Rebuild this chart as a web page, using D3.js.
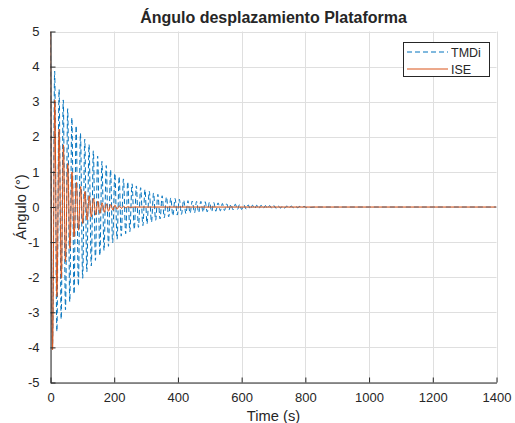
<!DOCTYPE html>
<html>
<head>
<meta charset="utf-8">
<script src="https://cdn.jsdelivr.net/npm/d3@7"></script>
<style>
  html, body { margin: 0; padding: 0; background: #ffffff; }
  svg { display: block; }
  text { font-family: "Liberation Sans", Arial, Helvetica, sans-serif; fill: #262626; }
</style>
</head>
<body>
<div id="chart"></div>
<script>
// ---------------- data ----------------
const chartTitle = "Ángulo desplazamiento Plataforma";
const xLabel = "Time (s)";
const yLabel = "Ángulo (°)";
const seriesNames = ["TMDi", "ISE"];

const xTicks = [0, 200, 400, 600, 800, 1000, 1200, 1400];
const xTickLabels = ["0", "200", "400", "600", "800", "1000", "1200", "1400"];
const yTicks = [-5, -4, -3, -2, -1, 0, 1, 2, 3, 4, 5];
const yTickLabels = ["-5", "-4", "-3", "-2", "-1", "0", "1", "2", "3", "4", "5"];

// TMDi: successive extremes of the oscillation (time in s, angle in degrees)
const tmdiTime = [
  0, 6.5, 13, 20, 27, 33.5, 40, 47, 54, 60.5, 67, 74, 80.5, 87.5, 94, 101,
  107.5, 114, 121, 128, 134.5, 141, 148, 155, 161.5, 168, 175, 182, 188.5, 195, 202, 209,
  215.5, 222, 229, 236, 242.5, 249, 256, 263, 269.5, 276, 283, 290, 296.5, 303, 310, 317,
  323.5, 330, 337, 344, 350.5, 357, 364, 371, 377.5, 384, 391, 398, 404.5, 411, 418, 425,
  431.5, 438, 445, 452, 458.5, 465, 472, 479, 485.5, 492, 499, 506, 512.5, 519, 526, 533,
  539.5, 546, 553, 560, 566.5, 573, 580, 587, 593.5, 600, 607, 614, 620.5, 627, 634, 641,
  647.5, 654, 661, 668, 674.5, 681, 688, 695, 701.5, 708, 715, 722, 728.5, 735, 742, 749,
  755.5, 762, 769, 776, 782.5, 789, 796, 803, 809.5, 816, 830, 1400
];
const tmdiValue = [
  5, -3.9, 3.87, -3.55, 3.35, -3.2, 3.05, -2.93, 2.8, -2.7, 2.55, -2.48, 2.32, -2.25, 2.1, -2.03,
  1.93, -1.85, 1.78, -1.68, 1.6, -1.52, 1.45, -1.38, 1.3, -1.24, 1.18, -1.12, 1.06, -1.02, 0.96, -0.92,
  0.87, -0.83, 0.8, -0.76, 0.72, -0.7, 0.66, -0.64, 0.6, -0.58, 0.55, -0.53, 0.5, -0.48, 0.45, -0.43,
  0.4, -0.38, 0.36, -0.34, 0.32, -0.31, 0.29, -0.28, 0.26, -0.25, 0.24, -0.23, 0.22, -0.21, 0.2, -0.19,
  0.18, -0.18, 0.17, -0.17, 0.16, -0.16, 0.16, -0.15, 0.15, -0.14, 0.14, -0.13, 0.13, -0.12, 0.12, -0.11,
  0.1, -0.1, 0.09, -0.09, 0.08, -0.08, 0.08, -0.07, 0.07, -0.07, 0.06, -0.06, 0.06, -0.06, 0.05, -0.05,
  0.05, -0.05, 0.05, -0.04, 0.04, -0.04, 0.04, -0.04, 0.04, -0.04, 0.03, -0.03, 0.03, -0.03, 0.03, -0.03,
  0.03, -0.02, 0.02, -0.02, 0.02, -0.02, 0.02, -0.02, 0.01, -0.01, 0, 0
];

// ISE: successive extremes of the oscillation
const iseTime = [
  0, 6.5, 13.5, 20, 27, 34, 40.5, 47, 54, 61, 67.5, 74, 81, 88, 94.5, 101,
  108, 115, 121.5, 128, 135, 142, 148.5, 155, 162, 169, 175.5, 182, 189, 196, 202.5, 209,
  216, 223, 229.5, 236, 243, 250, 260, 1400
];
const iseValue = [
  5, -4.07, 3.05, -2.55, 2.22, -2.03, 1.77, -1.56, 1.24, -1.18, 1.0, -0.85, 0.7, -0.66, 0.58, -0.47,
  0.44, -0.37, 0.32, -0.28, 0.25, -0.23, 0.17, -0.18, 0.12, -0.15, 0.09, -0.12, 0.07, -0.09, 0.05, -0.06,
  0.03, -0.04, 0.02, -0.02, 0.01, -0.01, 0, 0
];

const seriesColors = ["#0072BD", "#D95319"];

// ---------------- layout ----------------
const W = 515, H = 423;
const plot = { left: 50.5, right: 496.5, top: 31.5, bottom: 382.5 };

const svg = d3.select("#chart").append("svg")
  .attr("width", W).attr("height", H);

svg.append("rect").attr("width", W).attr("height", H).attr("fill", "#ffffff");

const x = d3.scaleLinear().domain([0, 1400]).range([plot.left, plot.right]);
const y = d3.scaleLinear().domain([-5, 5]).range([plot.bottom, plot.top]);

// grid
const grid = svg.append("g").attr("stroke", "#dfdfdf").attr("stroke-width", 1);
grid.selectAll("line.gx").data(xTicks).enter().append("line")
  .attr("x1", d => Math.round(x(d)) + 0.5).attr("x2", d => Math.round(x(d)) + 0.5)
  .attr("y1", plot.top).attr("y2", plot.bottom);
grid.selectAll("line.gy").data(yTicks).enter().append("line")
  .attr("y1", d => Math.round(y(d)) + 0.5).attr("y2", d => Math.round(y(d)) + 0.5)
  .attr("x1", plot.left).attr("x2", plot.right);

// clip
svg.append("clipPath").attr("id", "clip").append("rect")
  .attr("x", plot.left).attr("y", plot.top - 1)
  .attr("width", plot.right - plot.left).attr("height", plot.bottom - plot.top + 2);

const line = d3.line().x(d => x(d[0])).y(d => y(d[1])).curve(d3.curveMonotoneX);

const tmdiData = tmdiTime.map((t, i) => [t, tmdiValue[i]]);
const iseData = iseTime.map((t, i) => [t, iseValue[i]]);

const lines = svg.append("g").attr("clip-path", "url(#clip)");
lines.append("path").datum(tmdiData)
  .attr("d", line).attr("fill", "none")
  .attr("stroke", seriesColors[0]).attr("stroke-width", 1)
  .attr("stroke-dasharray", "5,3");
lines.append("path").datum(iseData)
  .attr("d", line).attr("fill", "none")
  .attr("stroke", seriesColors[1]).attr("stroke-width", 1);

// axes (MATLAB-like: inward ticks, no box)
const xAxis = d3.axisBottom(x).tickValues(xTicks)
  .tickFormat((d, i) => xTickLabels[i]).tickSizeInner(-5).tickSizeOuter(0).tickPadding(10);
const gx = svg.append("g").attr("transform", `translate(0,${plot.bottom})`).call(xAxis);
gx.select(".domain").attr("stroke", "#262626");
gx.selectAll(".tick line").attr("stroke", "#262626");
gx.selectAll(".tick text").attr("font-size", 13).attr("fill", "#262626")
  .style("font-family", '"Liberation Sans", Arial, sans-serif');

const yAxis = d3.axisLeft(y).tickValues(yTicks)
  .tickFormat((d, i) => yTickLabels[i]).tickSizeInner(-5).tickSizeOuter(0).tickPadding(11);
const gy = svg.append("g").attr("transform", `translate(${plot.left},0)`).call(yAxis);
gy.select(".domain").attr("stroke", "#262626");
gy.selectAll(".tick line").attr("stroke", "#262626");
gy.selectAll(".tick text").attr("font-size", 13).attr("fill", "#262626")
  .style("font-family", '"Liberation Sans", Arial, sans-serif');

// title and labels
svg.append("text")
  .attr("x", (plot.left + plot.right) / 2).attr("y", 23)
  .attr("text-anchor", "middle").attr("font-size", 16).attr("font-weight", "bold")
  .attr("fill", "#000000").text(chartTitle);

svg.append("text")
  .attr("x", (plot.left + plot.right) / 2).attr("y", 421)
  .attr("text-anchor", "middle").attr("font-size", 14.7).text(xLabel);

svg.append("text")
  .attr("transform", `translate(26,${(plot.top + plot.bottom) / 2}) rotate(-90)`)
  .attr("text-anchor", "middle").attr("font-size", 14.7).text(yLabel);

// legend
const lg = svg.append("g");
lg.append("rect").attr("x", 403.5).attr("y", 42.5).attr("width", 86).attr("height", 34)
  .attr("fill", "#ffffff").attr("stroke", "#262626").attr("stroke-width", 1);
const legendRows = [52, 69];
seriesNames.forEach((name, i) => {
  lg.append("line").attr("x1", 407).attr("x2", 448)
    .attr("y1", legendRows[i]).attr("y2", legendRows[i])
    .attr("stroke", seriesColors[i]).attr("stroke-width", 1)
    .attr("stroke-dasharray", i === 0 ? "5,3" : null);
  lg.append("text").attr("x", 451).attr("y", legendRows[i] + 4.5)
    .attr("font-size", 12.5).text(name);
});
</script>
</body>
</html>
